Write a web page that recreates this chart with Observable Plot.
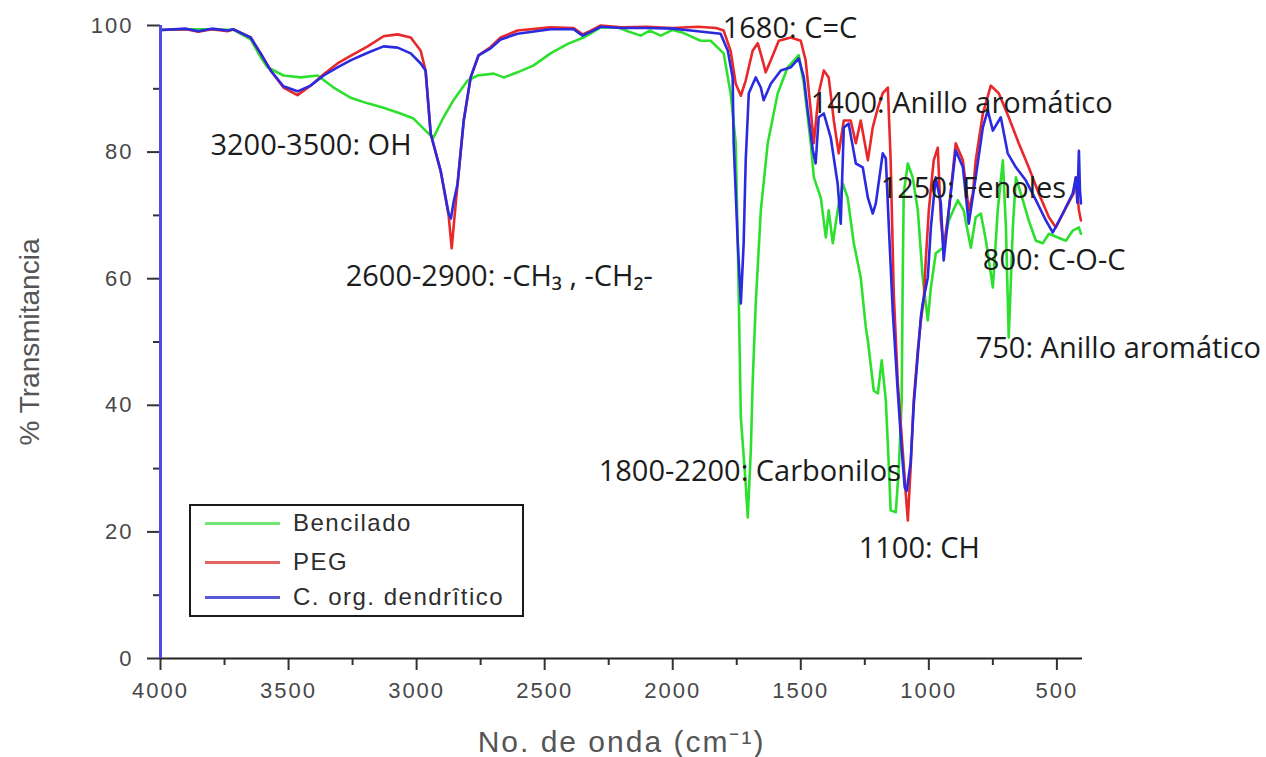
<!DOCTYPE html>
<html><head><meta charset="utf-8">
<script src="https://cdn.jsdelivr.net/npm/d3@7"></script>
<script src="https://cdn.jsdelivr.net/npm/@observablehq/plot@0.6"></script>
<style>
html,body{margin:0;padding:0;background:#fff;overflow:hidden}
#wrap{position:relative;width:1266px;height:757px}
#legend{position:absolute;left:189px;top:504px;width:331px;height:109px;border:2px solid #1a1a1a;background:#fff;font-family:"Liberation Sans",Arial,sans-serif;font-size:24px;color:#2e2e2e;letter-spacing:1.5px}
.row{position:absolute;left:0;height:30px;display:flex;align-items:center;white-space:nowrap}
.sw{display:inline-block;width:75px;height:3px;margin-left:14px;margin-right:13px}
svg g[aria-label="x-axis tick label"] text, svg g[aria-label="y-axis tick label"] text{letter-spacing:2px}
</style></head>
<body><div id="wrap"></div>
<script>
// ---- data (wavenumber cm-1, % transmitancia) ----
const seriesNames = ["Bencilado", "PEG", "C. org. dendrîtico"];
const seriesColors = ["#2ee02e", "#e8282a", "#2a2ae0"];
const legendColors = ["#74e474", "#e46262", "#5a5ad8"];

const bencilado = [[4000,99.3],[3900,99.4],[3800,99.4],[3715,99.3],[3648,97.8],[3609,95],[3582,93.4],[3520,92.1],[3453,91.8],[3387,92.1],[3324,90.2],[3258,88.6],[3191,87.7],[3129,87.0],[3063,86.1],[3012,85.3],[2973,83.7],[2945,82.6],[2934,82.3],[2895,85.5],[2856,88.2],[2801,91.3],[2762,92.1],[2699,92.4],[2660,91.8],[2606,92.6],[2543,93.7],[2477,95.6],[2410,97.1],[2348,98.1],[2281,99.7],[2215,99.7],[2170,99.0],[2125,98.4],[2090,99.2],[2047,98.4],[2000,99.3],[1957,98.8],[1891,97.6],[1852,97.6],[1801,95.6],[1774,89.3],[1754,81.4],[1746,65.6],[1734,38.1],[1715,27.6],[1707,22.3],[1695,32.9],[1688,43.4],[1676,56],[1656,70.8],[1629,81.4],[1590,89.3],[1551,93.4],[1508,95.3],[1488,90.8],[1461,81.4],[1449,76],[1422,72.8],[1402,66.5],[1391,70.8],[1375,65.6],[1356,70.8],[1336,75],[1317,72.8],[1293,65.6],[1266,60.2],[1246,52.3],[1238,50.2],[1215,42.3],[1199,41.9],[1184,47.1],[1168,40.8],[1156,30.2],[1149,23.4],[1129,23.1],[1117,30.2],[1106,40.8],[1102,60],[1098,73.5],[1082,78.2],[1063,76],[1043,70.8],[1024,60.2],[1004,53.4],[992,58.6],[973,64],[945,64.9],[922,69.2],[887,72.4],[864,70.8],[836,64.9],[817,69.7],[797,70.3],[777,66],[750,58.6],[731,70.8],[711,78.7],[699,68.1],[688,50.7],[672,68.1],[660,76],[633,72.4],[610,69.2],[582,66],[555,65.6],[531,67.1],[496,66.5],[465,66],[438,67.6],[414,68.1],[406,67.1]];

const peg = [[4000,99.3],[3900,99.4],[3852,99.0],[3800,99.4],[3738,99.1],[3715,99.4],[3648,98.1],[3609,95.6],[3570,92.9],[3520,90.2],[3465,89.0],[3414,90.5],[3363,92.3],[3309,94.0],[3258,95.2],[3191,96.7],[3129,98.3],[3074,98.6],[3023,98.1],[2984,96.0],[2965,92.9],[2945,82.9],[2906,77.0],[2875,70.0],[2863,64.8],[2856,68],[2840,75.0],[2816,85.0],[2789,91.8],[2758,95.3],[2711,96.6],[2672,98.1],[2606,99.2],[2477,99.7],[2387,99.6],[2352,98.6],[2320,99.2],[2281,100],[2200,99.7],[2100,99.8],[2000,99.6],[1900,99.8],[1830,99.6],[1801,99.2],[1774,96.0],[1754,90.8],[1734,88.9],[1715,91.3],[1688,96.0],[1668,97.2],[1649,94.5],[1637,92.6],[1617,94.5],[1586,97.6],[1539,98.1],[1500,97.6],[1481,94.5],[1461,86.6],[1449,81.4],[1430,89.3],[1410,92.9],[1391,91.8],[1371,85.0],[1352,79.8],[1332,85.0],[1305,85.0],[1285,81.4],[1266,85.0],[1238,78.7],[1219,83.9],[1199,87.0],[1180,89.3],[1160,90.2],[1149,78.7],[1137,57.7],[1121,43.4],[1102,32.9],[1090,26],[1082,21.8],[1071,30.2],[1059,40.8],[1043,48.7],[1031,53.4],[1020,56.6],[1012,62.9],[1000,70.8],[981,78.7],[965,80.7],[953,69.2],[942,64.9],[922,70.8],[895,81.4],[867,78.7],[844,70.8],[828,73.5],[817,78.7],[789,86.1],[758,90.5],[727,89.3],[688,85.5],[649,81.4],[610,77.6],[571,73.5],[531,69.7],[504,68.1],[465,71.2],[434,73.5],[426,76],[414,70.8],[406,69.2]];

const dendritico = [[4000,99.3],[3900,99.5],[3852,99.1],[3800,99.5],[3738,99.2],[3715,99.4],[3648,98.1],[3609,95.6],[3570,92.9],[3520,90.4],[3465,89.6],[3414,90.5],[3363,92.1],[3309,93.4],[3258,94.5],[3191,95.7],[3129,96.7],[3074,96.5],[3023,95.6],[2984,94.0],[2965,92.9],[2945,82.9],[2906,77.0],[2875,70.3],[2866,69.5],[2856,72],[2840,75],[2816,85],[2789,91.8],[2758,95.3],[2711,96.4],[2672,97.8],[2606,98.7],[2477,99.4],[2387,99.4],[2352,98.4],[2320,99.0],[2281,99.8],[2200,99.6],[2100,99.6],[2000,99.5],[1930,99.2],[1813,98.7],[1785,96.0],[1766,91.8],[1762,81.4],[1746,65.6],[1734,56.1],[1723,65.6],[1715,78.7],[1703,89.3],[1676,91.8],[1656,90.2],[1645,88.2],[1617,90.8],[1578,92.9],[1539,93.4],[1508,94.8],[1488,91.8],[1473,86.6],[1453,80.3],[1442,78.2],[1430,85.5],[1410,86.1],[1383,82.3],[1356,75.0],[1344,68.7],[1332,83.9],[1313,84.5],[1285,78.2],[1258,77.6],[1238,72.8],[1219,70.3],[1207,71.9],[1180,79.8],[1168,79.0],[1156,68.1],[1141,55],[1121,42],[1106,33],[1094,27],[1086,26.5],[1071,31],[1059,40],[1043,48],[1031,54],[1024,56.1],[1004,60.2],[992,68.1],[973,76],[953,71.9],[942,62.9],[922,70.8],[895,80.3],[867,77.6],[844,68.7],[817,76],[789,83.9],[770,86.6],[750,83.4],[719,85.5],[692,79.8],[660,77.6],[621,75.5],[582,72.4],[543,69.2],[516,67.3],[477,70.3],[438,73.5],[426,76],[420,72],[414,80.2],[410,74],[406,71.9]];

const xMajorTicks = [4000, 3500, 3000, 2500, 2000, 1500, 1000, 500];
const xMinorTicks = [3750, 3250, 2750, 2250, 1750, 1250, 750];
const yMajorTicks = [0, 20, 40, 60, 80, 100];
const yMinorTicks = [10, 30, 50, 70, 90];

const annotationLabels = ["3200-3500: OH", "2600-2900: -CH₃ , -CH₂-", "1680: C=C", "1400: Anillo aromático", "1250: Fenoles", "800: C-O-C", "750: Anillo aromático", "1800-2200: Carbonilos", "1100: CH"];
const annotationWn = [3805, 3277, 1805, 1461, 1188, 789, 817, 2289, 1274];
const annotationT = [79.6, 58.9, 98.1, 86.1, 72.7, 61.3, 47.4, 28.1, 15.8];

const xTitle = "No. de onda (cm⁻¹)";
const yTitle = "% Transmitancia";

// ---- build ----
const allSeries = [bencilado, peg, dendritico];
const rows = allSeries.flatMap((s, i) => s.map(([wn, T]) => ({wn, T, serie: seriesNames[i]})));
const notes = annotationLabels.map((label, i) => ({label, wn: annotationWn[i], T: annotationT[i]}));

const tickStyle = {fontSize: 22, fill: "#484848", stroke: "#333", strokeWidth: 2, label: null, tickFormat: d3.format("d")};

const chart = Plot.plot({
  width: 1266, height: 757,
  marginLeft: 160, marginRight: 184, marginTop: 25, marginBottom: 99,
  style: {fontFamily: "'Liberation Sans', Arial, sans-serif", background: "#fff", overflow: "visible"},
  x: {domain: [4000, 400]},
  y: {domain: [0, 100]},
  color: {domain: seriesNames, range: seriesColors},
  marks: [
    Plot.axisY({...tickStyle, ticks: yMajorTicks, tickSize: 13, tickPadding: 14}),
    Plot.axisY({ticks: yMinorTicks, tickSize: 7, fill: "none", stroke: "#333", strokeWidth: 2, label: null}),
    Plot.axisX({...tickStyle, ticks: xMajorTicks, tickSize: 12, tickPadding: 12}),
    Plot.axisX({ticks: xMinorTicks, tickSize: 7, fill: "none", stroke: "#333", strokeWidth: 2, label: null}),
    Plot.ruleY([0], {stroke: "#222", strokeWidth: 2}),
    Plot.line(rows, {x: "wn", y: "T", z: "serie", stroke: "serie", strokeWidth: 2.6, strokeLinejoin: "round"}),
    Plot.ruleX([4000], {stroke: "#4b4be6", strokeWidth: 3}),
    Plot.text(notes, {x: "wn", y: "T", text: "label", textAnchor: "start", lineAnchor: "bottom", fontSize: 29, fontFamily: "'Open Sans', sans-serif", fill: "#1c1c1c"}),
    Plot.text([yTitle], {frameAnchor: "left", dx: -130, rotate: -90, textAnchor: "middle", lineAnchor: "middle", fontSize: 28, fill: "#555", fontFamily: "'Liberation Sans', Arial, sans-serif"}),
    Plot.text([xTitle], {frameAnchor: "bottom", dy: 84, textAnchor: "middle", lineAnchor: "middle", fontSize: 30, fill: "#555", fontFamily: "'Liberation Sans', Arial, sans-serif"})
  ]
});

const wrap = document.getElementById("wrap");
wrap.appendChild(chart);

d3.select(chart).selectAll("text")
  .filter(function() { return this.textContent === xTitle; })
  .style("letter-spacing", "2px");

const legend = document.createElement("div");
legend.id = "legend";
const rowTops = [2, 41, 76];
seriesNames.forEach((name, i) => {
  const r = document.createElement("div");
  r.className = "row";
  r.style.top = rowTops[i] + "px";
  const sw = document.createElement("span");
  sw.className = "sw";
  sw.style.background = legendColors[i];
  const t = document.createElement("span");
  t.textContent = name;
  r.appendChild(sw); r.appendChild(t);
  legend.appendChild(r);
});
wrap.appendChild(legend);
</script>
</body></html>
